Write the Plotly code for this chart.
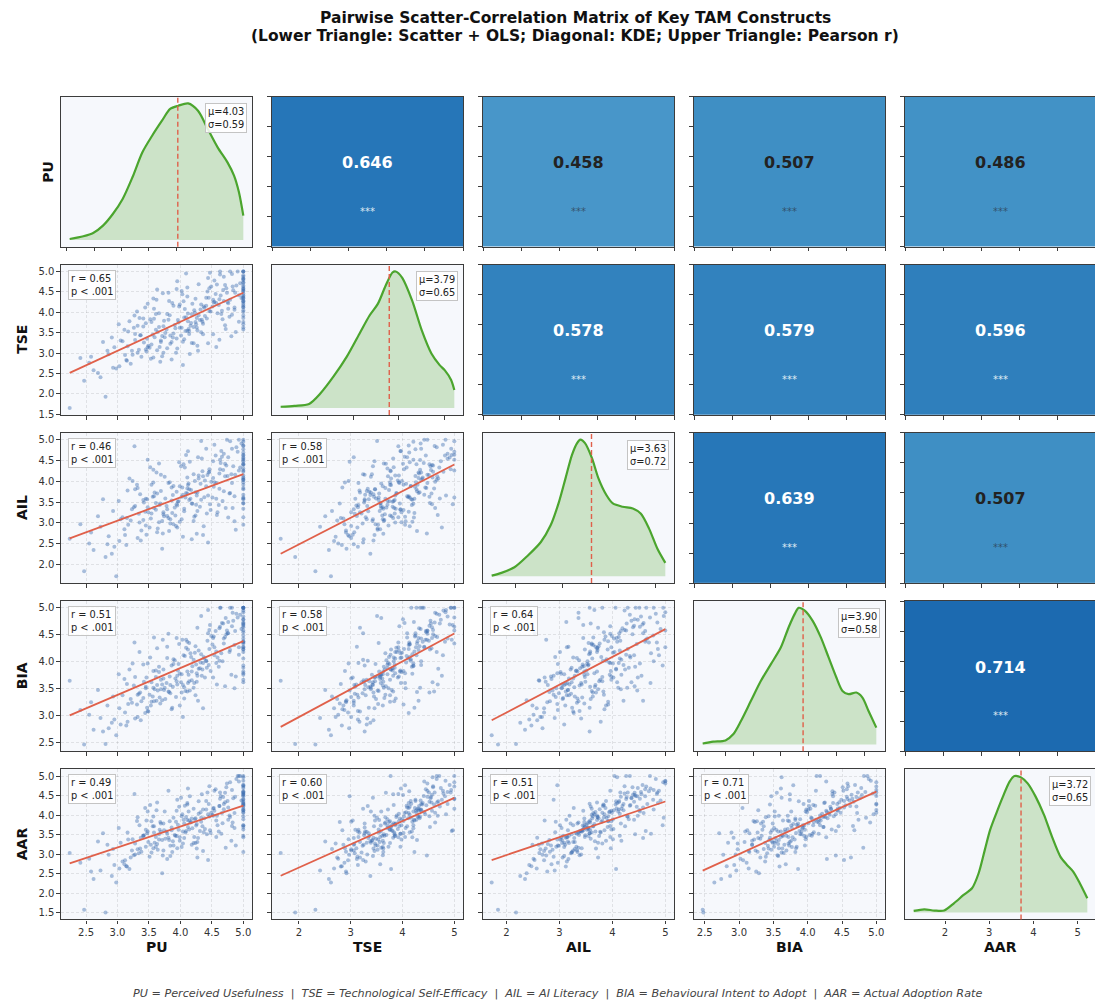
import plotly.graph_objects as go

# page body has an 8px margin: work in screen pixels, convert to figure pixels
OFF = 8
W, H = 1103 - OFF, 1007 - OFF
FONT = "DejaVu Sans"

names = ["PU", "TSE", "AIL", "BIA", "AAR"]

# ---- respondent-level construct scores (read/estimated from the scatter panels) ----
PU = [4.52, 3.71, 5.00, 4.18, 3.34, 4.86, 2.24, 4.05, 3.92, 4.63,
      3.58, 4.27, 5.00, 3.12, 4.41, 3.86, 4.74, 3.45, 4.09, 2.81,
      4.95, 3.67, 4.22, 3.28, 5.00, 4.36, 3.79, 4.57, 2.95, 4.13,
      4.68, 3.53, 5.00, 3.98, 4.31, 3.21, 4.82, 3.64, 4.45, 2.47,
      4.16, 5.00, 3.88, 4.59, 3.42, 4.03, 4.76, 3.17, 4.39, 3.73,
      5.00, 2.62, 4.24, 3.95, 4.71, 3.56, 4.48, 3.03, 5.00, 4.12,
      3.81, 4.64, 3.38, 4.33, 4.91, 3.69, 4.21, 2.91, 4.54, 3.97,
      5.00, 3.49, 4.07, 4.78, 3.26, 4.43, 3.84, 5.00, 4.26, 2.73,
      4.61, 3.61, 4.97, 4.14, 3.32, 4.49, 3.91, 5.00, 4.35, 3.08,
      4.69, 3.76, 4.19, 2.55, 4.84, 3.63, 4.29, 5.00, 3.47, 4.02,
      4.56, 3.14, 4.38, 3.83, 5.00, 3.54, 4.67, 4.11, 2.98, 4.46,
      3.74, 4.89, 3.36, 4.25, 5.00, 3.94, 4.53, 3.66, 4.08, 4.79,
      3.23, 4.42, 3.89, 5.00, 2.86, 4.17, 4.73, 3.51, 4.32, 3.78,
      5.00, 4.06, 4.62, 3.41, 4.23, 5.00, 3.96, 4.51, 3.59, 4.87,
      4.88, 3.31, 4.15, 3.72, 5.00, 2.77, 4.44, 3.48, 5.00, 3.86,
      4.58, 3.19, 4.81, 3.63, 5.00, 4.04, 3.27, 4.72, 3.44, 5.00,
      4.28, 2.69, 4.47, 3.93, 5.00, 3.57, 4.36, 3.02, 4.93, 4.11,
      3.71, 4.65, 3.35, 5.00, 4.01, 2.41, 4.76, 3.81, 5.00, 3.16,
      5.00, 3.62, 4.27, 3.95, 5.00, 3.24, 4.62, 4.09, 3.46, 5.00,
      4.33, 3.87, 4.71, 3.11, 4.44, 3.68, 5.00, 4.18, 3.52, 4.86,
      2.93, 4.54, 3.79, 5.00, 4.02, 3.37, 4.66, 3.99, 5.00, 3.57,
      4.37, 4.12, 3.28, 4.83, 3.75, 5.00, 4.24, 3.58, 4.57, 2.84,
      4.93, 3.89, 4.29, 3.45, 5.00, 4.06, 3.66, 4.79, 3.15, 4.46,
      5.00, 3.82, 4.21, 3.54, 4.69, 2.58, 4.14, 5.00, 3.73, 4.41,
      3.99, 3.32, 4.82, 4.04, 5.00, 3.61, 4.52, 3.94, 3.05, 4.75,
      4.26, 3.69, 5.00, 3.41, 4.34, 3.84, 4.63, 4.11, 3.48, 5.00]
TSE = [4.31, 3.42, 4.62, 3.95, 3.08, 4.12, 1.65, 4.27, 3.61, 5.00,
       3.84, 3.56, 4.38, 2.95, 4.16, 3.27, 4.48, 3.73, 3.88, 1.93,
       4.71, 3.15, 4.05, 3.47, 5.00, 3.72, 3.96, 4.23, 3.14, 3.59,
       4.55, 2.86, 4.29, 4.14, 3.81, 2.74, 4.94, 3.52, 4.36, 2.32,
       3.67, 4.83, 3.38, 3.98, 3.26, 4.44, 4.09, 3.53, 3.91, 3.66,
       4.57, 2.58, 4.33, 3.11, 4.67, 3.45, 4.02, 2.68, 4.13, 3.78,
       3.82, 4.41, 2.91, 4.19, 5.00, 3.31, 3.64, 3.38, 4.26, 3.75,
       4.46, 3.18, 4.08, 3.89, 3.62, 4.51, 3.23, 4.74, 3.86, 2.41,
       4.18, 3.57, 4.35, 3.47, 3.01, 4.63, 3.69, 4.91, 3.77, 3.29,
       4.28, 3.49, 4.21, 2.76, 4.54, 3.07, 3.93, 4.79, 3.35, 3.62,
       4.45, 2.83, 4.11, 3.93, 4.36, 3.21, 3.83, 4.39, 2.62, 4.03,
       3.79, 4.66, 3.44, 3.71, 4.52, 3.36, 4.24, 3.98, 3.54, 5.00,
       3.06, 3.85, 4.16, 4.42, 2.97, 3.74, 4.59, 3.13, 4.07, 3.58,
       4.87, 3.34, 4.32, 3.65, 3.99, 4.25, 3.81, 4.14, 3.39, 4.48,
       3.52, 4.02, 2.98, 4.47, 3.63, 3.27, 3.24, 4.21, 4.05, 2.84,
       4.68, 3.78, 3.41, 4.56, 3.76, 2.71, 3.92, 3.59, 4.12, 4.21,
       3.06, 2.51, 4.97, 3.01, 4.17, 4.34, 3.46, 3.71, 3.77, 4.61,
       2.92, 3.96, 3.86, 4.53, 3.43, 2.88, 4.22, 4.48, 3.86, 3.17,
       3.92, 4.31, 3.18, 4.76, 4.58, 2.96, 3.33, 4.95, 3.04, 5.00,
       3.51, 4.23, 3.68, 3.57, 4.84, 2.79, 4.34, 3.25, 3.83, 4.06,
       2.64, 4.78, 3.12, 3.71, 4.52, 3.44, 4.04, 3.62, 5.00, 2.89,
       4.14, 3.97, 3.32, 4.63, 3.39, 4.01, 3.76, 4.09, 3.15, 3.06,
       4.42, 3.48, 4.69, 3.09, 4.27, 3.87, 3.64, 4.31, 2.81, 4.59,
       3.58, 4.28, 3.24, 3.76, 4.87, 2.91, 3.54, 4.66, 3.01, 4.36,
       4.19, 3.67, 3.94, 3.28, 4.82, 3.96, 3.46, 4.57, 3.31, 4.25,
       3.63, 3.27, 4.72, 3.85, 3.82, 3.43, 4.93, 3.55, 3.14, 4.12]
AIL = [4.08, 3.05, 4.85, 3.47, 3.22, 3.64, 2.62, 4.41, 3.18, 4.52,
       3.36, 3.29, 4.06, 2.71, 3.88, 3.54, 5.00, 2.94, 3.72, 2.18,
       4.33, 3.43, 3.15, 3.81, 4.64, 4.12, 3.33, 3.58, 2.43, 3.95,
       4.27, 3.11, 3.92, 4.46, 3.39, 3.06, 4.78, 2.87, 4.21, 1.84,
       3.58, 5.00, 3.67, 3.26, 3.49, 3.85, 4.58, 2.96, 4.02, 3.21,
       4.39, 2.35, 3.74, 3.42, 4.12, 3.63, 3.31, 2.57, 4.69, 3.91,
       3.12, 4.44, 2.82, 3.56, 4.71, 3.77, 3.05, 2.26, 3.98, 3.52,
       3.84, 3.26, 4.33, 3.71, 3.38, 4.15, 2.99, 4.48, 3.66, 2.91,
       3.43, 3.48, 4.91, 3.81, 2.64, 3.99, 3.37, 4.57, 4.24, 3.14,
       3.76, 3.59, 3.46, 2.51, 4.36, 2.78, 4.14, 4.23, 3.57, 3.09,
       4.62, 2.47, 3.62, 3.98, 4.03, 3.23, 3.53, 4.09, 1.72, 4.29,
       3.16, 4.82, 3.69, 3.44, 4.41, 3.75, 3.87, 3.02, 3.61, 4.96,
       3.33, 3.23, 3.89, 3.68, 2.68, 3.79, 4.38, 2.89, 3.94, 3.41,
       4.54, 3.28, 4.19, 3.07, 4.01, 4.77, 3.51, 3.61, 3.73, 4.16,
       2.84, 3.92, 4.47, 2.75, 3.34, 3.57, 2.53, 4.52, 2.96, 3.85,
       3.19, 4.07, 4.17, 3.71, 3.98, 2.67, 4.84, 3.36, 3.27, 4.95,
       4.58, 3.16, 3.45, 2.93, 3.57, 4.28, 2.71, 3.53, 4.26, 3.83,
       2.38, 4.73, 3.01, 3.48, 4.36, 2.97, 3.13, 3.96, 4.14, 3.78,
       3.14, 4.21, 3.73, 2.89, 4.09, 4.01, 3.82, 4.63, 2.72, 3.61,
       4.97, 3.24, 4.42, 2.85, 3.66, 3.47, 4.51, 2.61, 4.34, 3.04,
       3.29, 4.88, 3.17, 4.31, 3.63, 2.58, 4.59, 3.88, 4.26, 3.97,
       2.92, 4.72, 3.41, 3.36, 4.11, 4.42, 3.18, 3.64, 3.96, 2.49,
       5.00, 2.97, 4.07, 3.58, 3.81, 3.34, 4.43, 3.72, 3.12, 4.23,
       3.47, 2.81, 4.17, 3.92, 4.66, 2.77, 3.55, 4.04, 3.26, 4.78,
       3.03, 3.84, 3.96, 3.68, 4.62, 3.32, 4.48, 3.45, 3.09, 4.13,
       2.74, 4.16, 3.59, 3.55, 4.55, 3.09, 4.29, 3.71, 3.38, 4.86]
BIA = [4.44, 3.58, 4.73, 3.82, 3.41, 4.31, 3.65, 4.12, 3.69, 4.65,
       3.27, 3.74, 5.00, 3.06, 4.02, 3.93, 4.58, 3.51, 4.26, 2.48,
       4.87, 3.34, 3.61, 3.72, 5.00, 3.98, 4.07, 4.19, 2.93, 3.76,
       4.71, 3.19, 4.38, 4.33, 3.88, 3.31, 5.00, 3.47, 3.94, 2.47,
       4.16, 4.92, 3.54, 4.08, 3.63, 4.41, 4.53, 3.22, 3.71, 3.86,
       4.64, 2.74, 4.29, 3.58, 4.46, 3.36, 3.83, 3.14, 4.36, 4.23,
       3.45, 5.00, 3.27, 4.14, 4.82, 3.67, 3.52, 2.87, 4.27, 3.96,
       4.55, 3.08, 4.11, 4.18, 3.56, 4.39, 3.42, 4.78, 3.79, 2.96,
       3.91, 3.72, 4.61, 3.64, 2.98, 4.48, 4.03, 4.69, 3.86, 3.38,
       4.34, 3.31, 3.92, 3.02, 4.76, 3.57, 4.21, 4.95, 3.15, 3.77,
       4.57, 2.82, 4.06, 3.73, 4.43, 3.62, 4.01, 4.37, 2.64, 4.24,
       3.48, 4.89, 3.43, 3.95, 4.67, 3.64, 4.47, 3.81, 3.46, 5.00,
       3.24, 3.89, 4.05, 4.28, 2.77, 4.09, 4.51, 3.39, 3.99, 3.61,
       4.84, 3.53, 4.62, 3.33, 4.17, 4.49, 3.84, 4.32, 3.49, 4.57,
       3.73, 3.21, 3.47, 4.41, 3.82, 2.71, 4.53, 3.97, 3.79, 3.12,
       3.58, 3.86, 3.76, 4.25, 3.67, 2.98, 4.36, 4.81, 3.05, 3.93,
       3.28, 3.48, 4.68, 3.35, 5.00, 3.52, 3.14, 3.77, 4.13, 3.45,
       3.29, 4.16, 4.18, 4.23, 3.62, 3.11, 4.74, 4.52, 4.06, 2.89,
       4.27, 3.28, 4.63, 3.74, 3.62, 3.97, 4.02, 4.41, 3.71, 4.34,
       4.85, 3.15, 3.55, 3.68, 4.96, 3.23, 5.00, 3.66, 4.08, 3.51,
       3.36, 4.12, 4.28, 3.89, 3.43, 2.92, 4.72, 3.19, 4.58, 3.83,
       4.09, 3.61, 2.95, 4.91, 3.52, 4.79, 3.38, 4.45, 3.98, 3.19,
       4.27, 3.96, 3.87, 3.54, 5.00, 3.32, 3.91, 4.22, 3.59, 4.59,
       3.76, 3.44, 4.04, 3.26, 4.43, 3.25, 4.35, 4.18, 3.69, 4.01,
       3.78, 3.39, 4.66, 3.57, 4.37, 3.84, 3.71, 4.44, 2.84, 4.53,
       3.63, 3.49, 4.71, 3.95, 3.74, 3.57, 5.00, 3.82, 3.09, 4.24]
AAR = [4.17, 3.36, 4.58, 3.91, 3.02, 4.05, 3.03, 3.88, 3.47, 4.42,
       3.55, 3.31, 4.27, 2.84, 4.36, 3.68, 4.81, 3.19, 3.95, 1.50,
       5.00, 3.62, 3.44, 3.27, 4.73, 4.14, 3.52, 3.86, 2.72, 4.09,
       4.46, 3.24, 3.97, 4.21, 3.59, 2.91, 4.64, 3.11, 4.28, 1.57,
       3.81, 4.88, 3.33, 3.74, 3.48, 4.02, 4.19, 3.37, 3.64, 3.78,
       4.52, 2.36, 3.92, 3.15, 4.33, 3.71, 3.54, 2.63, 4.61, 3.69,
       3.42, 4.49, 3.06, 3.83, 5.00, 3.57, 3.28, 2.44, 4.11, 3.62,
       4.25, 3.31, 4.24, 3.99, 2.97, 4.58, 3.21, 4.69, 3.77, 2.58,
       3.58, 3.44, 4.37, 3.86, 3.12, 4.06, 3.49, 4.77, 3.71, 2.81,
       4.15, 3.39, 3.66, 2.88, 4.43, 3.26, 4.03, 4.55, 3.53, 3.18,
       4.66, 2.69, 3.92, 3.84, 4.12, 3.04, 3.79, 4.31, 2.27, 3.96,
       3.61, 4.92, 3.14, 3.73, 4.34, 3.46, 4.18, 3.37, 3.55, 4.84,
       3.09, 3.51, 3.93, 4.08, 2.98, 3.82, 4.71, 2.93, 4.07, 3.58,
       4.59, 3.41, 4.23, 3.47, 3.89, 4.39, 3.75, 4.01, 3.29, 4.47,
       3.22, 3.85, 4.48, 2.96, 3.05, 3.53, 2.85, 4.09, 4.76, 3.61,
       3.98, 2.62, 3.34, 4.32, 3.63, 3.27, 4.54, 3.16, 4.18, 3.74,
       3.41, 3.32, 3.61, 3.83, 4.29, 3.96, 3.08, 3.67, 5.00, 4.27,
       2.51, 3.52, 3.74, 3.69, 4.44, 2.78, 3.88, 4.62, 3.47, 3.55,
       3.43, 4.12, 2.91, 4.39, 4.97, 3.38, 4.23, 3.59, 3.86, 4.16,
       3.93, 3.05, 4.57, 2.74, 4.02, 3.82, 4.13, 3.24, 4.26, 3.67,
       3.13, 4.62, 2.87, 3.89, 3.97, 3.42, 4.05, 3.34, 4.41, 3.15,
       3.56, 4.68, 2.99, 3.81, 4.09, 4.51, 3.28, 3.71, 3.44, 3.24,
       4.86, 3.22, 4.35, 3.62, 4.06, 3.78, 3.51, 3.95, 2.68, 4.74,
       3.73, 3.36, 4.16, 3.84, 4.28, 2.55, 3.63, 5.00, 3.09, 4.14,
       3.43, 3.94, 3.72, 3.58, 4.48, 3.19, 3.98, 4.11, 3.29, 4.36,
       3.14, 3.78, 4.22, 3.46, 4.53, 2.95, 4.58, 3.87, 3.58, 4.31]

# ---- reported statistics ----
means = [4.03, 3.79, 3.63, 3.90, 3.72]
sds = [0.59, 0.65, 0.72, 0.58, 0.65]
r_PU = [1.000, 0.646, 0.458, 0.507, 0.486]
r_TSE = [0.646, 1.000, 0.578, 0.579, 0.596]
r_AIL = [0.458, 0.578, 1.000, 0.639, 0.507]
r_BIA = [0.507, 0.579, 0.639, 1.000, 0.714]
r_AAR = [0.486, 0.596, 0.507, 0.714, 1.000]

# ---- KDE curves (relative density) ----
kde_x_PU = [2.05, 2.30, 2.48, 2.66, 2.84, 3.02, 3.20, 3.38, 3.56, 3.74, 3.89, 4.04, 4.22, 4.40, 4.58, 4.76, 4.94, 5.06, 5.15, 5.23]
kde_y_PU = [0.007, 0.027, 0.051, 0.105, 0.190, 0.300, 0.459, 0.641, 0.763, 0.873, 0.959, 0.983, 1.0, 0.946, 0.812, 0.678, 0.568, 0.471, 0.349, 0.178]
kde_x_TSE = [1.42, 1.72, 2.04, 2.29, 2.57, 2.86, 3.14, 3.36, 3.54, 3.71, 3.86, 3.93, 4.07, 4.29, 4.50, 4.71, 4.89, 5.00, 5.14, 5.21]
kde_y_TSE = [0.010, 0.017, 0.031, 0.109, 0.230, 0.375, 0.545, 0.678, 0.763, 0.896, 0.993, 1.0, 0.956, 0.787, 0.569, 0.400, 0.315, 0.278, 0.206, 0.133]
kde_x_AIL = [1.48, 1.69, 1.97, 2.26, 2.54, 2.75, 2.93, 3.07, 3.21, 3.32, 3.39, 3.49, 3.64, 3.78, 3.95, 4.09, 4.30, 4.52, 4.69, 4.87, 5.05, 5.22]
kde_y_AIL = [0.005, 0.025, 0.066, 0.152, 0.251, 0.373, 0.545, 0.717, 0.889, 0.975, 1.0, 0.975, 0.865, 0.717, 0.595, 0.533, 0.509, 0.496, 0.459, 0.349, 0.201, 0.098]
kde_x_BIA = [2.09, 2.28, 2.50, 2.64, 2.78, 2.96, 3.14, 3.32, 3.50, 3.64, 3.75, 3.82, 3.93, 4.07, 4.22, 4.36, 4.50, 4.61, 4.72, 4.86, 4.97, 5.08, 5.22]
kde_y_BIA = [0.007, 0.020, 0.029, 0.074, 0.172, 0.319, 0.466, 0.588, 0.711, 0.858, 0.956, 1.0, 0.980, 0.907, 0.784, 0.637, 0.490, 0.392, 0.368, 0.380, 0.343, 0.245, 0.123]
kde_x_AAR = [1.29, 1.53, 1.76, 1.98, 2.20, 2.42, 2.61, 2.76, 2.90, 3.02, 3.16, 3.31, 3.46, 3.57, 3.72, 3.87, 4.05, 4.24, 4.42, 4.61, 4.76, 4.90, 5.05, 5.22]
kde_y_AAR = [0.012, 0.024, 0.015, 0.015, 0.068, 0.129, 0.178, 0.288, 0.459, 0.605, 0.727, 0.849, 0.959, 1.0, 0.990, 0.946, 0.849, 0.715, 0.556, 0.410, 0.349, 0.300, 0.215, 0.105]

# ---- tick labels ----
scatter_xticks = [[2.5, 3.0, 3.5, 4.0, 4.5, 5.0], [2, 3, 4, 5], [2, 3, 4, 5],
                  [2.5, 3.0, 3.5, 4.0, 4.5, 5.0], [2, 3, 4, 5]]
scatter_xfmt = [".1f", "d", "d", ".1f", "d"]
scatter_yticks = [[], [1.5, 2.0, 2.5, 3.0, 3.5, 4.0, 4.5, 5.0], [2.0, 2.5, 3.0, 3.5, 4.0, 4.5, 5.0],
                  [2.5, 3.0, 3.5, 4.0, 4.5, 5.0], [1.5, 2.0, 2.5, 3.0, 3.5, 4.0, 4.5, 5.0]]
diag_xticks = [[2.0, 2.5, 3.0, 3.5, 4.0, 4.5, 5.0], [2, 3, 4, 5], [2, 3, 4, 5],
               [2.0, 2.5, 3.0, 3.5, 4.0, 4.5, 5.0], [2, 3, 4, 5]]
cell_ticks = [0, 0.2, 0.4, 0.6, 0.8, 1.0]

title_1 = "Pairwise Scatter-Correlation Matrix of Key TAM Constructs"
title_2 = "(Lower Triangle: Scatter + OLS; Diagonal: KDE; Upper Triangle: Pearson r)"
footer = ("PU = Perceived Usefulness  |  TSE = Technological Self-Efficacy  |  AIL = AI Literacy  |  "
          "BIA = Behavioural Intent to Adopt  |  AAR = Actual Adoption Rate")

cols = [PU, TSE, AIL, BIA, AAR]
R = [r_PU, r_TSE, r_AIL, r_BIA, r_AAR]
kde_x = [kde_x_PU, kde_x_TSE, kde_x_AIL, kde_x_BIA, kde_x_AAR]
kde_y = [kde_y_PU, kde_y_TSE, kde_y_AIL, kde_y_BIA, kde_y_AAR]

blues = ['rgb(247,251,255)', 'rgb(222,235,247)', 'rgb(198,219,239)', 'rgb(158,202,225)',
         'rgb(107,174,214)', 'rgb(66,146,198)', 'rgb(33,113,181)', 'rgb(8,81,156)', 'rgb(8,48,107)']
blues_scale = [[k / 8, c] for k, c in enumerate(blues)]

# ---- layout geometry (screen pixels) ----
col_left = [61, 272, 483, 694, 905]
PW = 191
row_top = [97, 266, 435, 604, 773]
PH = 151


def px(x):
    return (x - OFF) / W


def py(y):
    return 1 - (y - OFF) / H


def dom_x(j):
    return [px(col_left[j]), px(col_left[j] + PW)]


def dom_y(i):
    return [py(row_top[i] + PH), py(row_top[i])]


def pad_range(v):
    lo, hi = min(v), max(v)
    p = 0.05 * (hi - lo)
    return [lo - p, hi + p]


SCATTER_COL = "rgba(55,105,175,0.42)"
OLS_COL = "#e0604a"
KDE_COL = "#4ba52e"
KDE_FILL = "rgba(105,180,80,0.30)"
SPINE = "#3c3c3c"
TICKFONT = dict(family=FONT, size=10, color="#333")

fig = go.Figure()
layout = dict(width=W, height=H, margin=dict(l=0, r=0, t=0, b=0),
              paper_bgcolor="white", plot_bgcolor="#f6f8fc", showlegend=False,
              font=dict(family=FONT, color="#222"))
annotations = []
shapes = []

base_axis = dict(showline=True, mirror=True, linecolor=SPINE, linewidth=1.2,
                 zeroline=False, ticks="outside", ticklen=3.5, tickwidth=1, tickcolor=SPINE,
                 tickfont=TICKFONT, fixedrange=True)

for i in range(5):
    for j in range(5):
        k = i * 5 + j + 1
        sfx = "" if k == 1 else str(k)
        xa, ya = "x" + sfx, "y" + sfx
        xax = dict(base_axis, domain=dom_x(j), anchor=ya)
        yax = dict(base_axis, domain=dom_y(i), anchor=xa)
        if i > j:
            # lower triangle: scatter + OLS
            xv, yv = cols[j], cols[i]
            fig.add_trace(go.Scatter(x=xv, y=yv, mode="markers", xaxis=xa, yaxis=ya,
                                     marker=dict(size=4, color=SCATTER_COL, line=dict(width=0)),
                                     hoverinfo="skip"))
            slope = R[i][j] * sds[i] / sds[j]
            lx = [min(xv), max(xv)]
            ly = [means[i] + slope * (x - means[j]) for x in lx]
            fig.add_trace(go.Scatter(x=lx, y=ly, mode="lines", xaxis=xa, yaxis=ya,
                                     line=dict(color=OLS_COL, width=1.8), hoverinfo="skip"))
            xax.update(range=pad_range(xv), tickmode="array", tickvals=scatter_xticks[j],
                       tickformat=scatter_xfmt[j], showticklabels=(i == 4),
                       showgrid=True, gridcolor="rgba(0,0,0,0.09)", gridwidth=0.8, griddash="3px,2px")
            yax.update(range=pad_range(yv), tickmode="array", tickvals=scatter_yticks[i],
                       tickformat=".1f", showticklabels=(j == 0),
                       showgrid=True, gridcolor="rgba(0,0,0,0.09)", gridwidth=0.8, griddash="3px,2px")
            annotations.append(dict(
                text=f"r = {R[i][j]:.2f}<br>p &lt; .001", xref=xa + " domain", yref=ya + " domain",
                x=0.035, y=0.965, xanchor="left", yanchor="top", align="left", showarrow=False,
                font=dict(family=FONT, size=9.8, color="#222"),
                bgcolor="rgba(255,255,255,0.85)", bordercolor="#c4c4c4", borderwidth=1, borderpad=2))
        elif i == j:
            # diagonal: KDE
            fig.add_trace(go.Scatter(x=kde_x[i], y=kde_y[i], mode="lines", xaxis=xa, yaxis=ya,
                                     line=dict(color=KDE_COL, width=2.2, shape="spline", smoothing=0.8),
                                     fill="tozeroy", fillcolor=KDE_FILL, hoverinfo="skip"))
            top = max(kde_y[i])
            xax.update(range=pad_range(kde_x[i]), tickmode="array", tickvals=diag_xticks[i],
                       tickformat="d" if i in (1, 2, 4) else ".1f",
                       showticklabels=(i == 4), showgrid=False)
            yax.update(range=[-0.05 * top, 1.05 * top], showticklabels=False, ticks="",
                       showgrid=False)
            shapes.append(dict(type="line", xref=xa, yref=ya + " domain",
                               x0=means[i], x1=means[i], y0=0, y1=1,
                               line=dict(color=OLS_COL, width=1.4, dash="5px,3px")))
            annotations.append(dict(
                text=f"μ={means[i]:.2f}<br>σ={sds[i]:.2f}", xref=xa + " domain", yref=ya + " domain",
                x=0.975, y=0.955, xanchor="right", yanchor="top", align="left", showarrow=False,
                font=dict(family=FONT, size=9.8, color="#222"),
                bgcolor="rgba(255,255,255,0.85)", bordercolor="#c4c4c4", borderwidth=1, borderpad=2))
        else:
            # upper triangle: Pearson r cell
            r = R[i][j]
            fig.add_trace(go.Heatmap(z=[[r]], x=[0.5], y=[0.5], xaxis=xa, yaxis=ya,
                                     colorscale=blues_scale, zmin=-0.45, zmax=1.05,
                                     showscale=False, hoverinfo="skip"))
            xax.update(range=[0, 1], tickmode="array", tickvals=cell_ticks,
                       showticklabels=False, showgrid=False)
            yax.update(range=[0, 1], tickmode="array", tickvals=cell_ticks,
                       showticklabels=False, showgrid=False)
            light = r >= 0.55
            annotations.append(dict(
                text=f"<b>{r:.3f}</b>", xref=xa + " domain", yref=ya + " domain",
                x=0.5, y=0.56, xanchor="center", yanchor="middle", showarrow=False,
                font=dict(family=FONT, size=16, color="white" if light else "#222")))
            annotations.append(dict(
                text="***", xref=xa + " domain", yref=ya + " domain",
                x=0.5, y=0.235, xanchor="center", yanchor="middle", showarrow=False,
                font=dict(family=FONT, size=10,
                          color="rgba(255,255,255,0.85)" if light else "rgba(40,40,40,0.6)")))
        layout["xaxis" + sfx] = xax
        layout["yaxis" + sfx] = yax

# row / column labels
for i, nm in enumerate(names):
    cy = row_top[i] + PH / 2
    lx = 48 if i == 0 else 22
    annotations.append(dict(text=f"<b>{nm}</b>", xref="paper", yref="paper",
                            x=px(lx), y=py(cy), xanchor="center", yanchor="middle",
                            textangle=-90, showarrow=False,
                            font=dict(family=FONT, size=14, color="#111")))
for j, nm in enumerate(names):
    cx = col_left[j] + PW / 2
    annotations.append(dict(text=f"<b>{nm}</b>", xref="paper", yref="paper",
                            x=px(cx), y=py(952), xanchor="center", yanchor="middle",
                            showarrow=False, font=dict(family=FONT, size=14, color="#111")))

# title
for txt, ty in ((title_1, 18), (title_2, 36)):
    annotations.append(dict(text=f"<b>{txt}</b>", xref="paper", yref="paper",
                            x=px(575), y=py(ty), xanchor="center", yanchor="middle",
                            showarrow=False, font=dict(family=FONT, size=15.5, color="#111")))
# footer
annotations.append(dict(text=f"<i>{footer}</i>", xref="paper", yref="paper",
                        x=px(557), y=py(998), xanchor="center", yanchor="middle",
                        showarrow=False, font=dict(family=FONT, size=11.2, color="#444")))

layout["annotations"] = annotations
layout["shapes"] = shapes
fig.update_layout(**layout)
fig.write_html("out.html")
